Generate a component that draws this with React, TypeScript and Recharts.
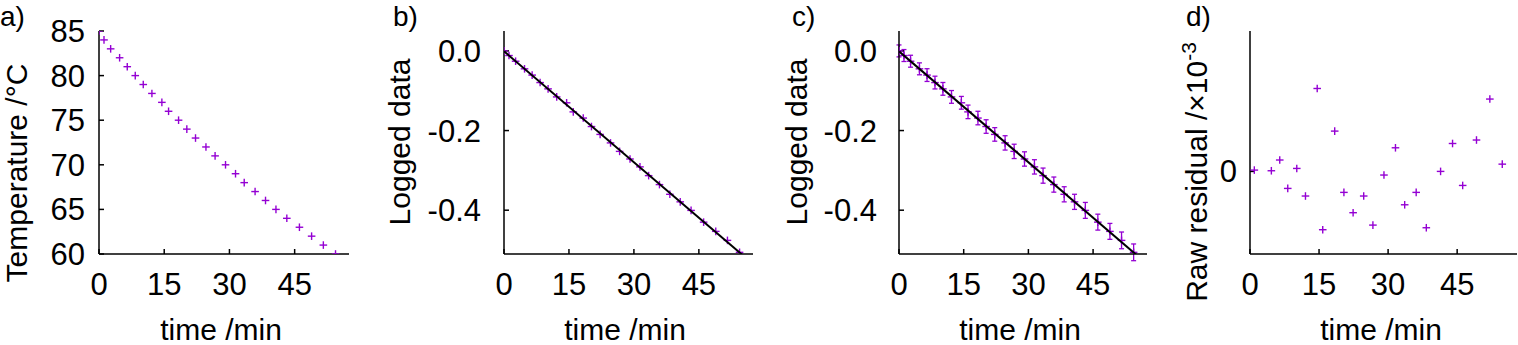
import { ComposedChart, ErrorBar, Scatter, XAxis, YAxis } from "recharts";

const FONT = '"Liberation Sans", Arial, Helvetica, sans-serif';
const PURPLE = "#9400d3";

// values
const time = [0, 1.15, 2.68, 4.74, 6.5, 8.34, 10.18, 12.17, 14.46, 16.0, 18.3, 20.2, 22.2, 24.6, 26.7, 29.1, 31.4, 33.4, 35.9, 38.3, 40.7, 43.2, 46.1, 48.9, 51.6, 54.4];
const temperature = [85, 84, 83, 82, 81, 80, 79, 78, 77, 76, 75, 74, 73, 72, 71, 70, 69, 68, 67, 66, 65, 64, 63, 62, 61, 60];
const logged = [0, -0.0116, -0.0259, -0.045, -0.0607, -0.0795, -0.0953, -0.1155, -0.1303, -0.1531, -0.1686, -0.1899, -0.2097, -0.231, -0.2523, -0.2714, -0.2912, -0.3132, -0.3357, -0.3601, -0.379, -0.4005, -0.43, -0.4532, -0.4758, -0.5058];
const loggedError = [0.015, 0.015, 0.015, 0.015, 0.016, 0.016, 0.016, 0.016, 0.016, 0.017, 0.017, 0.017, 0.017, 0.018, 0.018, 0.018, 0.018, 0.019, 0.019, 0.019, 0.019, 0.02, 0.02, 0.02, 0.021, 0.021];
const fitTime = [0, 57.5];
const fitValue = [-0.001, -0.535];
const residualTime = [0.94, 4.64, 6.46, 8.2, 10.16, 12.05, 14.6, 15.8, 18.4, 20.4, 22.4, 24.7, 26.7, 29.1, 31.6, 33.6, 36.1, 38.3, 41.4, 44.0, 46.2, 49.2, 52.1, 54.8];
const residual = [0.08, 0.04, 0.69, -1.03, 0.18, -1.49, 5.02, -3.53, 2.44, -1.27, -2.5, -1.49, -3.25, -0.22, 1.43, -2.02, -1.27, -3.41, 0, 1.69, -0.85, 1.9, 4.38, 0.44];

const timeTicks = [0, 15, 30, 45];
const tempTicks = [60, 65, 70, 75, 80, 85];
const loggedTicks = [-0.4, -0.2, 0];
const residualTicks = [0];

const tempData = time.map((x, i) => ({ x, y: temperature[i] }));
const loggedData = time.map((x, i) => ({ x, y: logged[i], e: loggedError[i] }));
const fitData = fitTime.map((x, i) => ({ x, y: fitValue[i] }));
const residualData = residualTime.map((x, i) => ({ x, y: residual[i] }));

const Plus = (props: any) => {
  const { cx, cy } = props;
  if (cx == null || cy == null) return <g />;
  return (
    <g stroke={PURPLE} strokeWidth={1.4}>
      <line x1={cx - 3.8} y1={cy} x2={cx + 3.8} y2={cy} />
      <line x1={cx} y1={cy - 3.8} x2={cx} y2={cy + 3.8} />
    </g>
  );
};

const NoShape = () => <g />;

const axisLine = { stroke: "#000", strokeWidth: 1.5 };
const tickFont = { fill: "#000", fontSize: 31, fontFamily: FONT };

function Panel({ left, right, xMax, yDomain, yTicks, yFormat, yGap, children }: any) {
  return (
    <div style={{ position: "absolute", left: 0, top: 0 }}>
      <ComposedChart width={1518} height={345} margin={{ top: 31, right: 1518 - right, bottom: 51, left: left - 70 }}>
        <XAxis dataKey="x" type="number" domain={[0, xMax]} ticks={timeTicks} allowDataOverflow interval={0}
          height={40} tickSize={-5} tickMargin={24} axisLine={axisLine} tickLine={axisLine} tick={tickFont} />
        <XAxis xAxisId="top" orientation="top" dataKey="x" type="number" domain={[0, xMax]} ticks={timeTicks}
          allowDataOverflow interval={0} height={0} tickSize={-5} axisLine={axisLine} tickLine={axisLine} tick={NoShape} />
        <YAxis dataKey="y" type="number" domain={yDomain} ticks={yTicks} allowDataOverflow interval={0}
          width={70} tickSize={-5} tickMargin={yGap + 5} tickFormatter={yFormat} axisLine={axisLine} tickLine={axisLine} tick={tickFont} />
        <YAxis yAxisId="right" orientation="right" dataKey="y" type="number" domain={yDomain} ticks={yTicks}
          allowDataOverflow interval={0} width={0} tickSize={-5} axisLine={axisLine} tickLine={axisLine} tick={NoShape} />
        {children}
      </ComposedChart>
    </div>
  );
}

const fmt1 = (v: number) => v.toFixed(1);
const titleStyle = { fontFamily: FONT, fontSize: 30, fill: "#000" };
const letterStyle = { fontFamily: FONT, fontSize: 28, fill: "#000" };

export default function App() {
  return (
    <div style={{ position: "absolute", left: 0, top: 0, width: 1518, height: 345, background: "#fff" }}>
      <Panel left={99} right={349} xMax={57.5} yDomain={[60, 85]} yTicks={tempTicks} yGap={14}>
        <Scatter data={tempData} shape={Plus} isAnimationActive={false} />
      </Panel>
      <Panel left={504} right={753} xMax={57.5} yDomain={[-0.51, 0.05]} yTicks={loggedTicks} yFormat={fmt1} yGap={23}>
        <Scatter data={loggedData} shape={Plus} isAnimationActive={false} />
        <Scatter data={fitData} shape={NoShape} line={{ stroke: "#000", strokeWidth: 2 }} isAnimationActive={false} />
      </Panel>
      <Panel left={899} right={1147} xMax={57.5} yDomain={[-0.51, 0.05]} yTicks={loggedTicks} yFormat={fmt1} yGap={22}>
        <Scatter data={loggedData} shape={Plus} isAnimationActive={false}>
          <ErrorBar dataKey="e" direction="y" width={2.5} stroke={PURPLE} strokeWidth={1.3} />
        </Scatter>
        <Scatter data={fitData} shape={NoShape} line={{ stroke: "#000", strokeWidth: 2 }} isAnimationActive={false} />
      </Panel>
      <Panel left={1250} right={1517} xMax={58} yDomain={[-5, 8.5]} yTicks={residualTicks} yGap={13}>
        <Scatter data={residualData} shape={Plus} isAnimationActive={false} />
      </Panel>
      <svg width={1518} height={345} style={{ position: "absolute", left: 0, top: 0, pointerEvents: "none" }}>
        <text x={0} y={26} style={letterStyle}>a)</text>
        <text x={393} y={26} style={letterStyle}>b)</text>
        <text x={792} y={26} style={letterStyle}>c)</text>
        <text x={1186} y={26} style={letterStyle}>d)</text>
        <text transform="translate(27,173) rotate(-90)" textAnchor="middle" style={titleStyle}>Temperature /°C</text>
        <text transform="translate(409.5,142) rotate(-90)" textAnchor="middle" style={titleStyle}>Logged data</text>
        <text transform="translate(806.5,142) rotate(-90)" textAnchor="middle" style={titleStyle}>Logged data</text>
        <text transform="translate(1206.5,172) rotate(-90)" textAnchor="middle" style={titleStyle}>
          Raw residual /×10<tspan dy={-11} fontSize={21}>-3</tspan>
        </text>
        <text x={221} y={340} textAnchor="middle" style={titleStyle}>time /min</text>
        <text x={625} y={340} textAnchor="middle" style={titleStyle}>time /min</text>
        <text x={1020} y={340} textAnchor="middle" style={titleStyle}>time /min</text>
        <text x={1381} y={340} textAnchor="middle" style={titleStyle}>time /min</text>
      </svg>
    </div>
  );
}
